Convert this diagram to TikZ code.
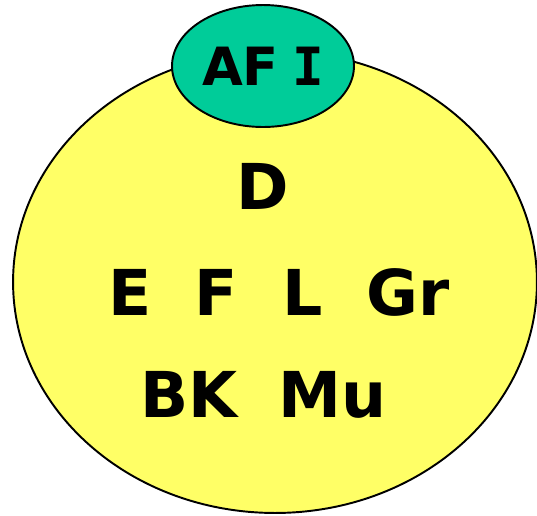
\documentclass[tikz,border=0pt]{standalone}
\usepackage{fontspec}
\setmainfont{DejaVu Sans}
\newfontfamily\barfont{DejaVu Sans Mono}
\usepackage{tikz}
\usetikzlibrary{shapes.geometric}
\definecolor{lemon}{RGB}{255,255,102}
\definecolor{seagreen}{RGB}{0,204,153}

\begin{document}
\begin{tikzpicture}[x=0.02cm,y=-0.02cm]
	\tikzstyle{every node}+=[inner sep=0pt]
	\tikzstyle{blob}=[ellipse,draw=black,line width=1.1pt]
	\tikzstyle{biglabel}=[font=\fontsize{36}{40}\selectfont\bfseries,anchor=base]
	\useasboundingbox (0,0) rectangle (537,515);
	% the two sets
	\node [blob,fill=lemon,minimum width=10.48cm,minimum height=9.24cm] (outer) at (275,282) {};
	\node [blob,fill=seagreen,minimum width=3.64cm,minimum height=2.44cm,font=\fontsize{30}{34}\selectfont\bfseries] (afi) at (263,66) {AF\hspace{0.25em}{\barfont I}};
	% labels inside
	\node [biglabel] (d) at (262.5,209) {D};
	\node [biglabel] (e) at (130,315) {E};
	\node [biglabel] (f) at (216.5,315) {F};
	\node [biglabel] (l) at (302.5,315) {L};
	\node [biglabel] (gr) at (408,315) {Gr};
	\node [biglabel] (bk) at (189,417) {BK};
	\node [biglabel] (mu) at (332.5,417) {Mu};
\end{tikzpicture}
\end{document}
